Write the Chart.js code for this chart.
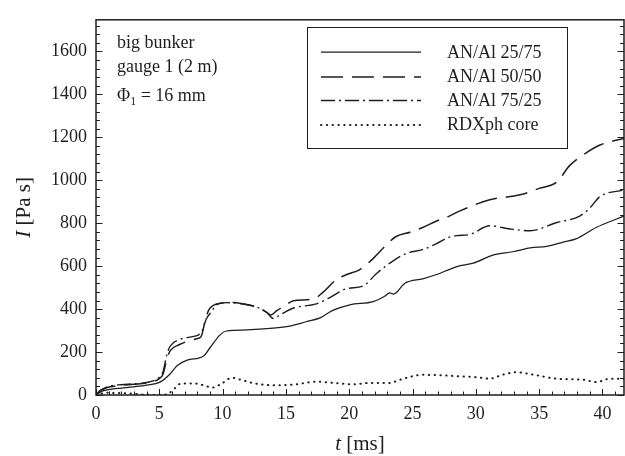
<!DOCTYPE html>
<html>
<head>
<meta charset="utf-8">
<script src="https://cdn.jsdelivr.net/npm/chart.js@4"></script>
<style>
html,body{margin:0;padding:0;background:#fff;}
#wrap{width:625px;height:456px;}
</style>
</head>
<body>
<div id="wrap"><canvas id="c" width="625" height="456"></canvas></div>
<script>
// ---- data ----
const seriesLabels = ['AN/Al 25/75', 'AN/Al 50/50', 'AN/Al 75/25', 'RDXph core'];

const t2575 = [0, 0.3, 0.6, 1.1, 2, 2.95, 4, 5.05, 5.85, 6.4, 7.2, 8.5, 9.0, 9.8, 10.3, 11.9, 14.0, 15.3, 16.6, 17.7, 18.7, 20.05, 21.9, 22.8, 23.2, 23.5, 24.4, 25.8, 26.9, 28.5, 29.8, 31.4, 32.9, 34.3, 35.6, 36.9, 37.9, 39.5, 41.7];
const I2575 = [0, 12, 20, 26, 32, 38, 46, 60, 98, 136, 162, 182, 220, 280, 298, 303, 311, 321, 341, 359, 394, 420, 435, 460, 475, 470, 520, 541, 561, 598, 614, 652, 667, 685, 692, 712, 727, 780, 833];

const t5050 = [0, 0.3, 0.6, 1.1, 2, 2.95, 4, 5, 5.3, 5.6, 5.85, 6.6, 7.4, 7.95, 8.3, 8.6, 8.9, 9.3, 10.0, 10.8, 11.6, 12.7, 13.5, 13.8, 14.3, 14.8, 15.6, 17.2, 17.9, 19.0, 19.8, 20.8, 21.9, 22.9, 23.7, 24.8, 25.8, 26.9, 27.9, 28.7, 31.1, 33.5, 35.0, 36.4, 37.4, 38.6, 39.8, 41.7];
const I5050 = [0, 18, 28, 38, 45, 50, 56, 76, 98, 167, 205, 235, 253, 262, 272, 340, 395, 418, 428, 431, 425, 409, 384, 372, 394, 410, 439, 447, 477, 538, 561, 583, 636, 697, 738, 758, 780, 810, 833, 856, 909, 932, 962, 992, 1068, 1123, 1164, 1195];

const t7525 = [0, 0.3, 0.6, 1.1, 2, 2.95, 4, 5, 5.3, 5.6, 5.85, 6.6, 7.7, 8.1, 8.4, 8.7, 9.1, 9.5, 10.3, 11.6, 12.7, 13.5, 14.0, 14.5, 15.6, 17.4, 18.5, 19.8, 21.1, 22.2, 23.5, 24.5, 25.8, 26.9, 27.9, 28.5, 29.5, 31.1, 32.7, 34.3, 36.4, 38.2, 39.0, 39.8, 41.7];
const I7525 = [0, 20, 30, 42, 48, 52, 58, 83, 110, 189, 227, 258, 273, 280, 300, 353, 386, 420, 430, 424, 409, 384, 356, 372, 405, 424, 455, 495, 508, 568, 626, 659, 677, 705, 735, 742, 747, 788, 773, 765, 803, 833, 870, 924, 955];

const tRDX = [0, 0.8, 2.4, 3.9, 5, 5.7, 6.2, 6.7, 7.9, 8.7, 9.2, 10, 10.7, 11.6, 12.6, 14.2, 15.8, 17.4, 19.0, 20.3, 21.6, 23.2, 24, 25.8, 28.5, 30.0, 31.1, 32.1, 33.2, 34.5, 36.4, 38.5, 39.5, 40.6, 41.7];
const IRDX = [0, 10, 8, 2, 0, 6, 30, 53, 53, 41, 35, 56, 80, 68, 53, 45, 50, 62, 55, 50, 56, 56, 71, 94, 88, 83, 76, 94, 106, 95, 76, 71, 60, 76, 76];

const xTickStep = 5, xMinorStep = 1;
const yTickStep = 200, yMinorStep = 40;
const xMax = 41.7, yMax = 1747;
const notes = ['big bunker', 'gauge 1 (2 m)'];
const noteSymbol = ['\u03A6', '1', ' = 16 mm'];

// ---- chart ----
const serif = '"Liberation Serif", "Times New Roman", serif';
const ink = '#1e1e1e';
const pts = (ts, vs) => ts.map((t, i) => ({x: t, y: vs[i]}));
const dashes = [[], [22, 9], [14, 4, 2, 4], [0.4, 5.4]];

const frame = {
  id: 'frame',
  afterDatasetsDraw(chart) {
    const {ctx, chartArea: a, scales: {x, y}} = chart;
    ctx.save();
    ctx.strokeStyle = ink;
    ctx.lineWidth = 1;
    ctx.setLineDash([]);
    const seg = (x1, y1, x2, y2) => { ctx.beginPath(); ctx.moveTo(x1, y1); ctx.lineTo(x2, y2); ctx.stroke(); };
    for (let v = 0; v <= xMax + 1e-9; v += xMinorStep) {
      const px = Math.round(x.getPixelForValue(v)) + 0.5;
      const L = (Math.abs(v % xTickStep) < 1e-9) ? 6 : 3.5;
      seg(px, a.bottom, px, a.bottom - L);
    }
    for (let v = 0; v <= yMax + 1e-9; v += yMinorStep) {
      const py = Math.round(y.getPixelForValue(v)) + 0.5;
      const L = (Math.abs(v % yTickStep) < 1e-9) ? 6.5 : 4;
      seg(a.left, py, a.left + L, py);
      seg(a.right, py, a.right - L, py);
    }
    ctx.lineWidth = 1.5;
    ctx.strokeRect(a.left, a.top, a.right - a.left, a.bottom - a.top);
    ctx.restore();
  },
  afterDraw(chart) {
    const {ctx, chartArea: a} = chart;
    ctx.save();
    ctx.fillStyle = ink;
    ctx.textBaseline = 'alphabetic';
    // annotation
    ctx.font = '18px ' + serif;
    ctx.textAlign = 'left';
    ctx.fillText(notes[0], 117, 48);
    ctx.fillText(notes[1], 117, 72);
    let nx = 117;
    ctx.fillText(noteSymbol[0], nx, 101);
    nx += ctx.measureText(noteSymbol[0]).width;
    ctx.font = '12px ' + serif;
    ctx.fillText(noteSymbol[1], nx, 105);
    nx += ctx.measureText(noteSymbol[1]).width;
    ctx.font = '18px ' + serif;
    ctx.fillText(noteSymbol[2], nx, 101);

    // legend
    ctx.strokeStyle = ink;
    ctx.lineWidth = 1;
    ctx.strokeRect(307.5, 27.5, 260, 121);
    const rows = [52, 77, 100.5, 125];
    const base = [57.5, 82, 106, 130];
    chart.data.datasets.forEach((ds, i) => {
      ctx.setLineDash(ds.borderDash || []);
      ctx.lineWidth = ds.borderWidth;
      ctx.lineCap = ds.borderCapStyle || 'butt';
      ctx.beginPath();
      ctx.moveTo(321, rows[i]);
      ctx.lineTo(421, rows[i]);
      ctx.stroke();
      ctx.setLineDash([]);
      ctx.lineCap = 'butt';
      ctx.font = '18px ' + serif;
      ctx.fillText(ds.label, 447, base[i]);
    });

    // axis titles
    const tPart = 't', tRest = ' [ms]';
    ctx.font = 'italic 21px ' + serif; const w1 = ctx.measureText(tPart).width;
    ctx.font = '21px ' + serif; const w2 = ctx.measureText(tRest).width;
    let sx = (a.left + a.right) / 2 - (w1 + w2) / 2;
    ctx.font = 'italic 21px ' + serif; ctx.fillText(tPart, sx, 450);
    ctx.font = '21px ' + serif; ctx.fillText(tRest, sx + w1, 450);

    ctx.translate(30, (a.top + a.bottom) / 2);
    ctx.rotate(-Math.PI / 2);
    const iPart = 'I', iRest = ' [Pa s]';
    ctx.font = 'italic 21px ' + serif; const v1 = ctx.measureText(iPart).width;
    ctx.font = '21px ' + serif; const v2 = ctx.measureText(iRest).width;
    let sy = -(v1 + v2) / 2;
    ctx.font = 'italic 21px ' + serif; ctx.fillText(iPart, sy, 0);
    ctx.font = '21px ' + serif; ctx.fillText(iRest, sy + v1, 0);
    ctx.restore();
  }
};

const mk = (i, data, w, cap) => ({
  label: seriesLabels[i],
  data,
  borderColor: ink,
  borderWidth: w,
  borderDash: dashes[i],
  borderCapStyle: cap || 'butt',
  pointRadius: 0,
  showLine: true,
  fill: false,
  cubicInterpolationMode: 'monotone'
});

new Chart(document.getElementById('c'), {
  type: 'scatter',
  data: {
    datasets: [
      mk(0, pts(t2575, I2575), 1.25),
      mk(1, pts(t5050, I5050), 1.5),
      mk(2, pts(t7525, I7525), 1.4),
      mk(3, pts(tRDX, IRDX), 2, 'round')
    ]
  },
  options: {
    responsive: false,
    animation: false,
    events: [],
    layout: {padding: {top: 10, right: 1, left: 0, bottom: 0}},
    plugins: {legend: {display: false}, tooltip: {enabled: false}},
    scales: {
      x: {
        type: 'linear', min: 0, max: xMax,
        grid: {display: false, drawTicks: false},
        border: {display: false},
        ticks: {stepSize: xTickStep, includeBounds: false, autoSkip: false, maxRotation: 0,
                color: ink, font: {family: serif, size: 18}, padding: 8,
                callback: v => (Math.abs(v % xTickStep) < 1e-9 ? String(v) : '')},
        afterFit: s => { s.height = 61; }
      },
      y: {
        type: 'linear', min: 0, max: yMax,
        grid: {display: false, drawTicks: false},
        border: {display: false},
        ticks: {stepSize: yTickStep, includeBounds: false, autoSkip: false,
                color: ink, font: {family: serif, size: 18}, padding: 9,
                callback: v => (Math.abs(v % yTickStep) < 1e-9 ? String(v) : '')},
        afterFit: s => { s.width = 96; }
      }
    }
  },
  plugins: [frame]
});
</script>
</body>
</html>
